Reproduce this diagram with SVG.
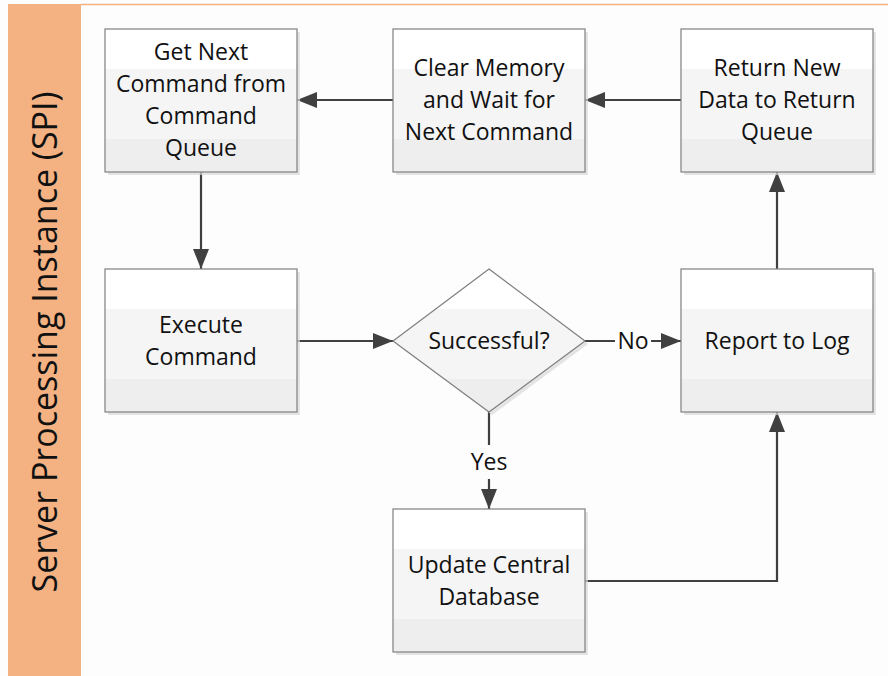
<svg xmlns="http://www.w3.org/2000/svg" width="888" height="676" viewBox="0 0 888 676">
<style>
.box{fill:url(#g);stroke:#7f7f7f;stroke-width:1.2}
.sh{fill:#d9d9d9;opacity:0.7}
.t{font-family:"Open Sans","Liberation Sans",sans-serif;font-size:23px;fill:#111;text-anchor:middle}
.c{fill:none;stroke:#404040;stroke-width:2.2}
.lab{font-family:"Open Sans","Liberation Sans",sans-serif;font-size:23px;fill:#111;text-anchor:middle}
</style>
<defs>
<linearGradient id="g" x1="0" y1="0" x2="0" y2="1">
<stop offset="0" stop-color="#ffffff"/><stop offset="0.28" stop-color="#ffffff"/>
<stop offset="0.28" stop-color="#f5f5f5"/><stop offset="0.77" stop-color="#f5f5f5"/>
<stop offset="0.77" stop-color="#eeeeee"/><stop offset="1" stop-color="#eeeeee"/>
</linearGradient>
<marker id="ah" viewBox="0 0 20 16" refX="20" refY="8" markerWidth="20" markerHeight="16" orient="auto" markerUnits="userSpaceOnUse">
<path d="M0,0 L20,8 L0,16 z" fill="#404040"/>
</marker>
</defs>
<rect width="888" height="676" fill="#fdfdfd"/>
<line x1="81" y1="4.5" x2="888" y2="4.5" stroke="#f4b283" stroke-width="1.5"/>
<g id="lane">
<rect x="8" y="4" width="73" height="672" fill="#f4b283"/>
<text transform="translate(57,342) rotate(-90)" font-family="Open Sans, Liberation Sans, sans-serif" font-size="34" fill="#111" text-anchor="middle">Server Processing Instance (SPI)</text>
</g>
<g id="connectors">
<path class="c" d="M393,100 H297" marker-end="url(#ah)"/>
<path class="c" d="M681,100 H585" marker-end="url(#ah)"/>
<path class="c" d="M201,172 V269" marker-end="url(#ah)"/>
<path class="c" d="M297,341 H393" marker-end="url(#ah)"/>
<path class="c" d="M585,341 H615 M651,341 H681" marker-end="url(#ah)"/>
<text class="lab" x="633" y="349">No</text>
<path class="c" d="M489,412 V445 M489,479 V509" marker-end="url(#ah)"/>
<text class="lab" x="489" y="470">Yes</text>
<path class="c" d="M585,581 H777 V412" marker-end="url(#ah)"/>
<path class="c" d="M777,269 V172" marker-end="url(#ah)"/>
</g>
<g id="n1">
<rect class="sh" x="108" y="32" width="192" height="143"/>
<rect class="box" x="105" y="29" width="192" height="143"/>
<text class="t" x="201" y="60">Get Next</text>
<text class="t" x="201" y="92">Command from</text>
<text class="t" x="201" y="124">Command</text>
<text class="t" x="201" y="156">Queue</text>
</g>
<g id="n2">
<rect class="sh" x="396" y="32" width="192" height="143"/>
<rect class="box" x="393" y="29" width="192" height="143"/>
<text class="t" x="489" y="76">Clear Memory</text>
<text class="t" x="489" y="108">and Wait for</text>
<text class="t" x="489" y="140">Next Command</text>
</g>
<g id="n3">
<rect class="sh" x="684" y="32" width="192" height="143"/>
<rect class="box" x="681" y="29" width="192" height="143"/>
<text class="t" x="777" y="76">Return New</text>
<text class="t" x="777" y="108">Data to Return</text>
<text class="t" x="777" y="140">Queue</text>
</g>
<g id="n4">
<rect class="sh" x="108" y="272" width="192" height="143"/>
<rect class="box" x="105" y="269" width="192" height="143"/>
<text class="t" x="201" y="333">Execute</text>
<text class="t" x="201" y="365">Command</text>
</g>
<g id="n5">
<path class="sh" d="M492,272 L588,344 L492,415 L396,344 z"/>
<path class="box" d="M489,269 L585,341 L489,412 L393,341 z"/>
<text class="t" x="489" y="349">Successful?</text>
</g>
<g id="n6">
<rect class="sh" x="684" y="272" width="192" height="143"/>
<rect class="box" x="681" y="269" width="192" height="143"/>
<text class="t" x="777" y="349">Report to Log</text>
</g>
<g id="n7">
<rect class="sh" x="396" y="512" width="192" height="143"/>
<rect class="box" x="393" y="509" width="192" height="143"/>
<text class="t" x="489" y="573">Update Central</text>
<text class="t" x="489" y="605">Database</text>
</g>
</svg>
